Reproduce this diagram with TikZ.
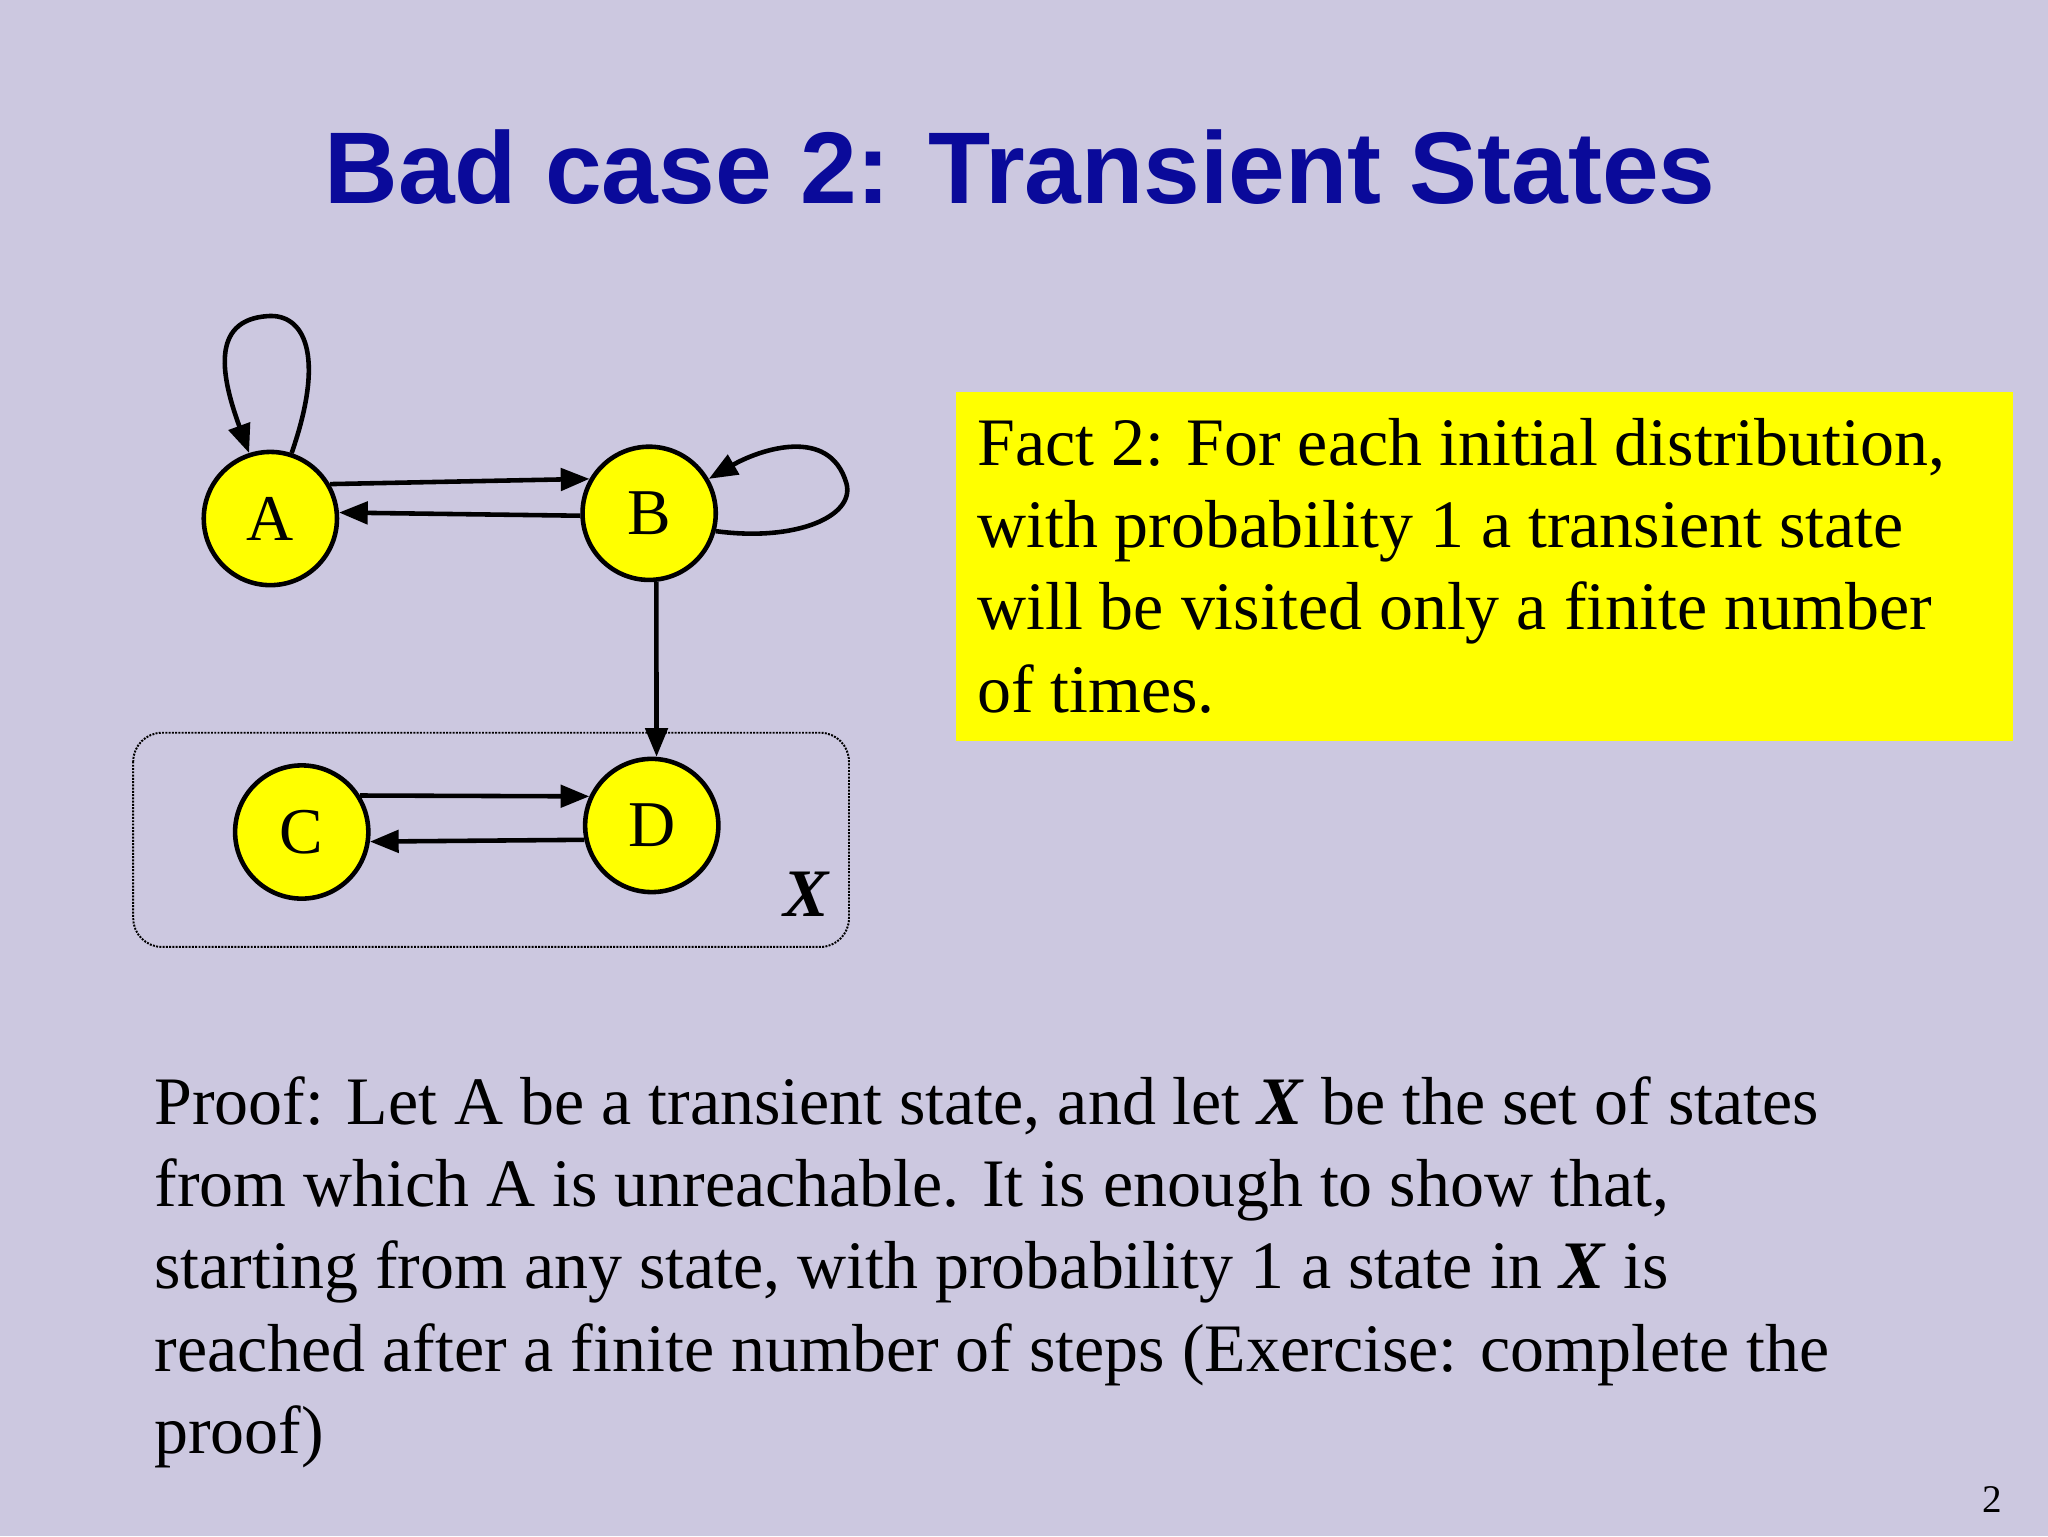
\documentclass[tikz,border=0pt]{standalone}
\usepackage{fontspec}
\setmainfont{Liberation Serif}
\newfontfamily\titlefont{Liberation Sans}
\usetikzlibrary{arrows.meta}
\definecolor{bg}{HTML}{CCC8E0}
\definecolor{ttl}{HTML}{0A0A9A}
\definecolor{yel}{HTML}{FFFF00}
\begin{document}
\begin{tikzpicture}[x=1pt,y=-1pt,
  st/.style={circle,draw,line width=3.5pt,fill=yel,minimum size=102pt,inner sep=0pt,font=\fontsize{50}{54}\selectfont},
  ar/.style={line width=3.5pt,-{Triangle[length=22pt,width=17pt]}},
  body/.style={font=\fontsize{52}{63}\selectfont,align=left,inner sep=0pt,anchor=north west}]
\fill[bg] (0,0) rectangle (1568,1176);
\useasboundingbox (0,0) rectangle (1568,1176);
\node[font=\titlefont\bfseries\fontsize{78}{80}\selectfont,text=ttl] (title) at (781,128) {Bad case 2: Transient States};
\draw[densely dotted,line width=1.5pt,rounded corners=22pt] (102,561) rectangle (650,725);
\node[font=\bfseries\itshape\fontsize{52}{52}\selectfont] (xl) at (617,685) {X};
\node[st] (A) at (207,397) {A};
\node[st] (B) at (497,393) {B};
\node[st] (C) at (231,637) {C};
\node[st] (D) at (499,632) {D};
\draw[ar] (A.30) -- (B.150);
\draw[ar] (B.182) -- (A.5);
\draw[ar] (B.-84) -- (D.86);
\draw[ar] (C.32) -- (D.155);
\draw[ar] (D.-168) -- (C.-8);
\draw[ar] (A.72) .. controls (250,270) and (232,240) .. (205,242) .. controls (160,245) and (170,290) .. (A.108);
\draw[ar] (B.-15) .. controls (610,415) and (655,395) .. (648,370) .. controls (635,325) and (580,345) .. (B.30);
\fill[yel] (732,300) rectangle (1541,567);
\node[body] (fact) at (748,320) {Fact 2: For each initial distribution,\\with probability 1 a transient state\\will be visited only a finite number\\of times.};
\node[body] (proof) at (118,824) {Proof: Let A be a transient state, and let \textbf{\textit{X}} be the set of states\\from which A is unreachable. It is enough to show that,\\starting from any state, with probability 1 a state in \textbf{\textit{X}} is\\reached after a finite number of steps (Exercise: complete the\\proof)};
\node[font=\fontsize{30}{30}\selectfont] (pg) at (1525,1148) {2};
\end{tikzpicture}
\end{document}
